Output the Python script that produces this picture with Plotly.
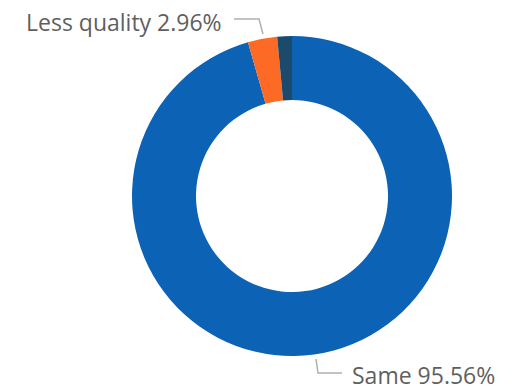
import plotly.graph_objects as go

labels = ["Same", "Less quality", "Other"]
values = [95.56, 2.96, 1.48]
colors = ["#0C62B5", "#FC6A25", "#1C4A6C"]

W, H = 505, 391

fig = go.Figure(go.Pie(
    labels=labels, values=values, hole=0.6, sort=False, direction="clockwise",
    rotation=0, marker=dict(colors=colors, line=dict(width=0)),
    textinfo="none", hoverinfo="label+percent", showlegend=False,
    domain=dict(x=[132 / W, 452 / W], y=[(H - 356) / H, (H - 36) / H]),
))

def px(x):
    return x / W

def py(y):
    return 1 - y / H

font = dict(family="Open Sans, Segoe UI, sans-serif", size=23, color="#5F5F5F")
line = dict(color="#B0B0B0", width=1.5)

# Less quality label (top left)
fig.add_annotation(x=px(223), y=py(22), xref="paper", yref="paper", xanchor="right",
                   yanchor="middle", showarrow=False, borderpad=0,
                   text=f"{labels[1]} {values[1]:.2f}%", font=font)
fig.add_shape(type="path", xref="paper", yref="paper",
              path=f"M {px(234)} {py(19)} L {px(259)} {py(19)} L {px(263)} {py(34)}", line=line)

# Same label (bottom right)
fig.add_annotation(x=px(351), y=py(375), xref="paper", yref="paper", xanchor="left",
                   yanchor="middle", showarrow=False, borderpad=0,
                   text=f"{labels[0]} {values[0]:.2f}%", font=font)
fig.add_shape(type="path", xref="paper", yref="paper",
              path=f"M {px(316)} {py(359)} L {px(318)} {py(373)} L {px(342)} {py(373)}", line=line)

fig.update_layout(width=W, height=H, margin=dict(l=0, r=0, t=0, b=0),
                  paper_bgcolor="white", plot_bgcolor="white")
fig.write_html("out.html", config={"displayModeBar": False},
               post_script="document.body.style.margin='0';")
